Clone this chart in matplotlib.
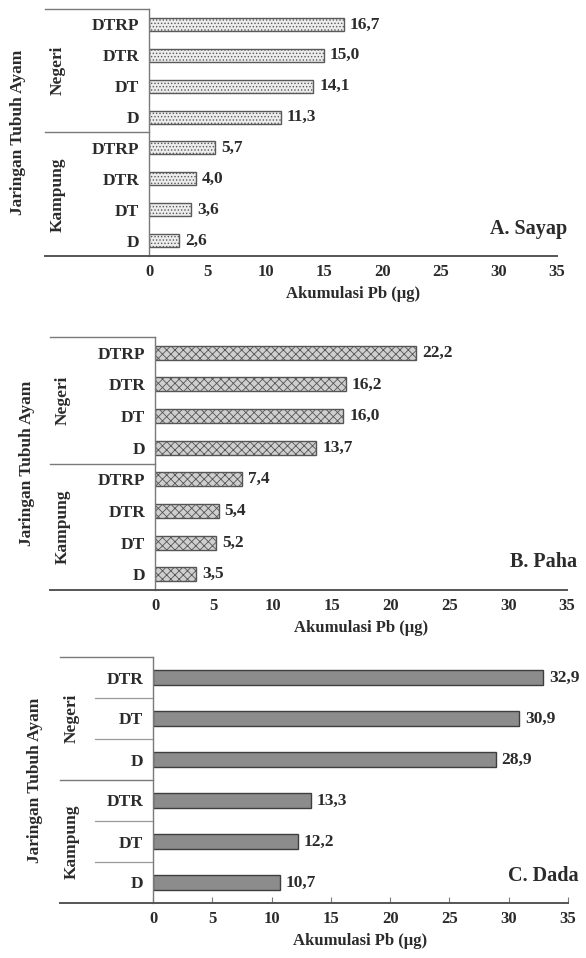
import matplotlib
matplotlib.use("Agg")
import matplotlib.pyplot as plt
from matplotlib.transforms import blended_transform_factory

plt.rcParams['font.family'] = ['Liberation Serif', 'DejaVu Serif']
plt.rcParams['font.weight'] = 'bold'
plt.rcParams['hatch.linewidth'] = 0.6

W, H = 586, 958
TXT = '#2b2b2b'
LINE = '#7a7a7a'

# Panel A: Sayap (wing)
sayap_labels = ['D', 'DT', 'DTR', 'DTRP', 'D', 'DT', 'DTR', 'DTRP']
sayap_values = [2.6, 3.6, 4.0, 5.7, 11.3, 14.1, 15.0, 16.7]
# Panel B: Paha (thigh)
paha_labels = ['D', 'DT', 'DTR', 'DTRP', 'D', 'DT', 'DTR', 'DTRP']
paha_values = [3.5, 5.2, 5.4, 7.4, 13.7, 16.0, 16.2, 22.2]
# Panel C: Dada (breast)
dada_labels = ['D', 'DT', 'DTR', 'D', 'DT', 'DTR']
dada_values = [10.7, 12.2, 13.3, 28.9, 30.9, 32.9]

groups = ['Kampung', 'Negeri']
xticks = [0, 5, 10, 15, 20, 25, 30, 35]
xlabel = 'Akumulasi Pb (µg)'
ylabel = 'Jaringan Tubuh Ayam'

fig = plt.figure(figsize=(W / 100, H / 100), dpi=100)


def fx(px):
    return px / W


def fy(py):
    return 1 - py / H


def panel(x0, x1, ytop, ybot, labels, values, title, face, hatch, edge,
          barh, left_edge, group_x, ylabel_x, row_lines, tickmarks):
    ax = fig.add_axes([fx(x0), fy(ybot), fx(x1) - fx(x0), (ybot - ytop) / H])
    n = len(labels)
    ypos = list(range(n))
    ax.barh(ypos, values, height=barh, color=face, edgecolor=edge,
            hatch=hatch, linewidth=1.0)
    for y, v in zip(ypos, values):
        ax.text(v + 0.5, y, f'{v:.1f}'.replace('.', ','), va='center',
                ha='left', fontsize=12.5, color=TXT)
    ax.set_xlim(0, 35)
    ax.set_ylim(-0.5, n - 0.5)
    ax.set_xticks(xticks)
    ax.set_xticklabels([str(t) for t in xticks], fontsize=12, color=TXT)
    ax.tick_params(axis='x', length=4 if tickmarks else 0, direction='in',
                   color=LINE, pad=6)
    ax.set_yticks(ypos)
    ax.set_yticklabels(labels, fontsize=12.5, color=TXT)
    ax.tick_params(axis='y', length=0, pad=7)
    ax.set_xlabel(xlabel, fontsize=12, color=TXT, labelpad=4,
                  fontweight='bold')
    for s in ('top', 'right'):
        ax.spines[s].set_visible(False)
    ax.spines['left'].set_color(LINE)
    ax.spines['bottom'].set_color('#555555')
    ax.spines['bottom'].set_linewidth(1.4)
    ax.spines['left'].set_linewidth(1.0)

    # frame of the category area
    tr = blended_transform_factory(ax.transAxes, ax.transData)
    lx = (left_edge - x0) / (x1 - x0)
    half = n // 2
    ax.plot([lx, 0], [n - 0.5, n - 0.5], transform=tr, color=LINE, lw=1.0,
            clip_on=False)
    ax.plot([lx, 0], [-0.5, -0.5], transform=tr, color='#555555', lw=1.4,
            clip_on=False)
    ax.plot([lx, 0], [half - 0.5, half - 0.5], transform=tr, color=LINE,
            lw=1.0, clip_on=False)
    if row_lines is not None:
        rx = (row_lines - x0) / (x1 - x0)
        for k in range(1, n):
            if k != half:
                ax.plot([rx, 0], [k - 0.5, k - 0.5], transform=tr,
                        color='#9a9a9a', lw=0.9, clip_on=False)

    gx = (group_x - x0) / (x1 - x0)
    ax.text(gx, (half - 1) / 2, groups[0], transform=tr, rotation=90,
            ha='center', va='center', fontsize=12.5, color=TXT)
    ax.text(gx, half + (half - 1) / 2, groups[1], transform=tr, rotation=90,
            ha='center', va='center', fontsize=12.5, color=TXT)
    yx = (ylabel_x - x0) / (x1 - x0)
    ax.text(yx, (n - 1) / 2, ylabel, transform=tr, rotation=90,
            ha='center', va='center', fontsize=12.5, color=TXT)
    ax.text(1.025, 0.11, title, transform=ax.transAxes,
            ha='right', va='center', fontsize=14.5, color=TXT)
    return ax


panel(149, 557, 9, 256, sayap_labels, sayap_values, 'A. Sayap',
      '#ececec', '.....', '#5a5a5a', 0.42, 45, 58, 18, None, False)
panel(155, 567, 337, 590, paha_labels, paha_values, 'B. Paha',
      '#cfcfcf', 'xxxx', '#555555', 0.44, 50, 63, 27, None, False)
panel(153, 568, 657, 903, dada_labels, dada_values, 'C. Dada',
      '#8c8c8c', None, '#3e3e3e', 0.37, 60, 72, 35, 95, True)

fig.savefig('out.png', dpi=100)
